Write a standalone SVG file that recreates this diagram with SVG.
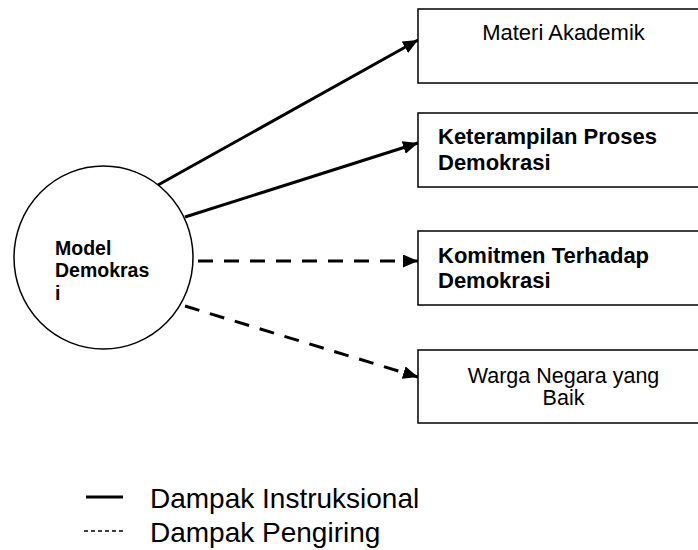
<svg xmlns="http://www.w3.org/2000/svg" width="698" height="550" viewBox="0 0 698 550">
<style>
.box{fill:#fff;stroke:#000;stroke-width:1.5}
.t{font-family:"Liberation Sans",Arial,sans-serif;font-size:22px;fill:#000}
.b{font-weight:bold}
.c{text-anchor:middle}
.ln{stroke:#000;stroke-width:3;fill:none}
.d{stroke-dasharray:15 11}
</style>
<defs>
<marker id="ah" markerUnits="userSpaceOnUse" markerWidth="16" markerHeight="14" refX="15" refY="6.5" orient="auto">
<path d="M0,0 L15,6.5 L0,13 z" fill="#000"/>
</marker>
</defs>
<rect width="698" height="550" fill="#fff"/>
<g id="connectors">
<line class="ln" x1="158" y1="185" x2="418" y2="40" marker-end="url(#ah)"/>
<line class="ln" x1="185" y1="217" x2="418" y2="143" marker-end="url(#ah)"/>
<line class="ln d" x1="198" y1="261" x2="418" y2="261" marker-end="url(#ah)"/>
<line class="ln d" x1="185" y1="306" x2="418" y2="377" marker-end="url(#ah)"/>
</g>
<g id="model">
<ellipse cx="103.5" cy="257.5" rx="89.5" ry="91.5" fill="none" stroke="#000" stroke-width="1.5"/>
<text class="t b" style="font-size:19.5px" x="55" y="255">Model</text>
<text class="t b" style="font-size:19.5px" x="55" y="277">Demokras</text>
<text class="t b" style="font-size:19.5px" x="55" y="300">i</text>
</g>
<g id="materi">
<rect class="box" x="418" y="9" width="300" height="74"/>
<text class="t c" x="563.5" y="40">Materi Akademik</text>
</g>
<g id="keterampilan">
<rect class="box" x="418" y="113" width="300" height="74"/>
<text class="t b" x="438" y="144">Keterampilan Proses</text>
<text class="t b" x="438" y="170">Demokrasi</text>
</g>
<g id="komitmen">
<rect class="box" x="418" y="231" width="300" height="74"/>
<text class="t b" x="438" y="263">Komitmen Terhadap</text>
<text class="t b" x="438" y="288">Demokrasi</text>
</g>
<g id="warga">
<rect class="box" x="418" y="350" width="300" height="73"/>
<text class="t c" style="font-size:21.5px" x="563.5" y="382.5">Warga Negara yang</text>
<text class="t c" style="font-size:21.5px" x="563.5" y="405">Baik</text>
</g>
<g id="legend">
<line x1="86" y1="497" x2="123" y2="497" stroke="#000" stroke-width="3"/>
<line x1="84" y1="531" x2="123" y2="531" stroke="#000" stroke-width="1.5" stroke-dasharray="4 3"/>
<text class="t" style="font-size:28px" x="150" y="508">Dampak Instruksional</text>
<text class="t" style="font-size:28px" x="150" y="542">Dampak Pengiring</text>
</g>
</svg>
